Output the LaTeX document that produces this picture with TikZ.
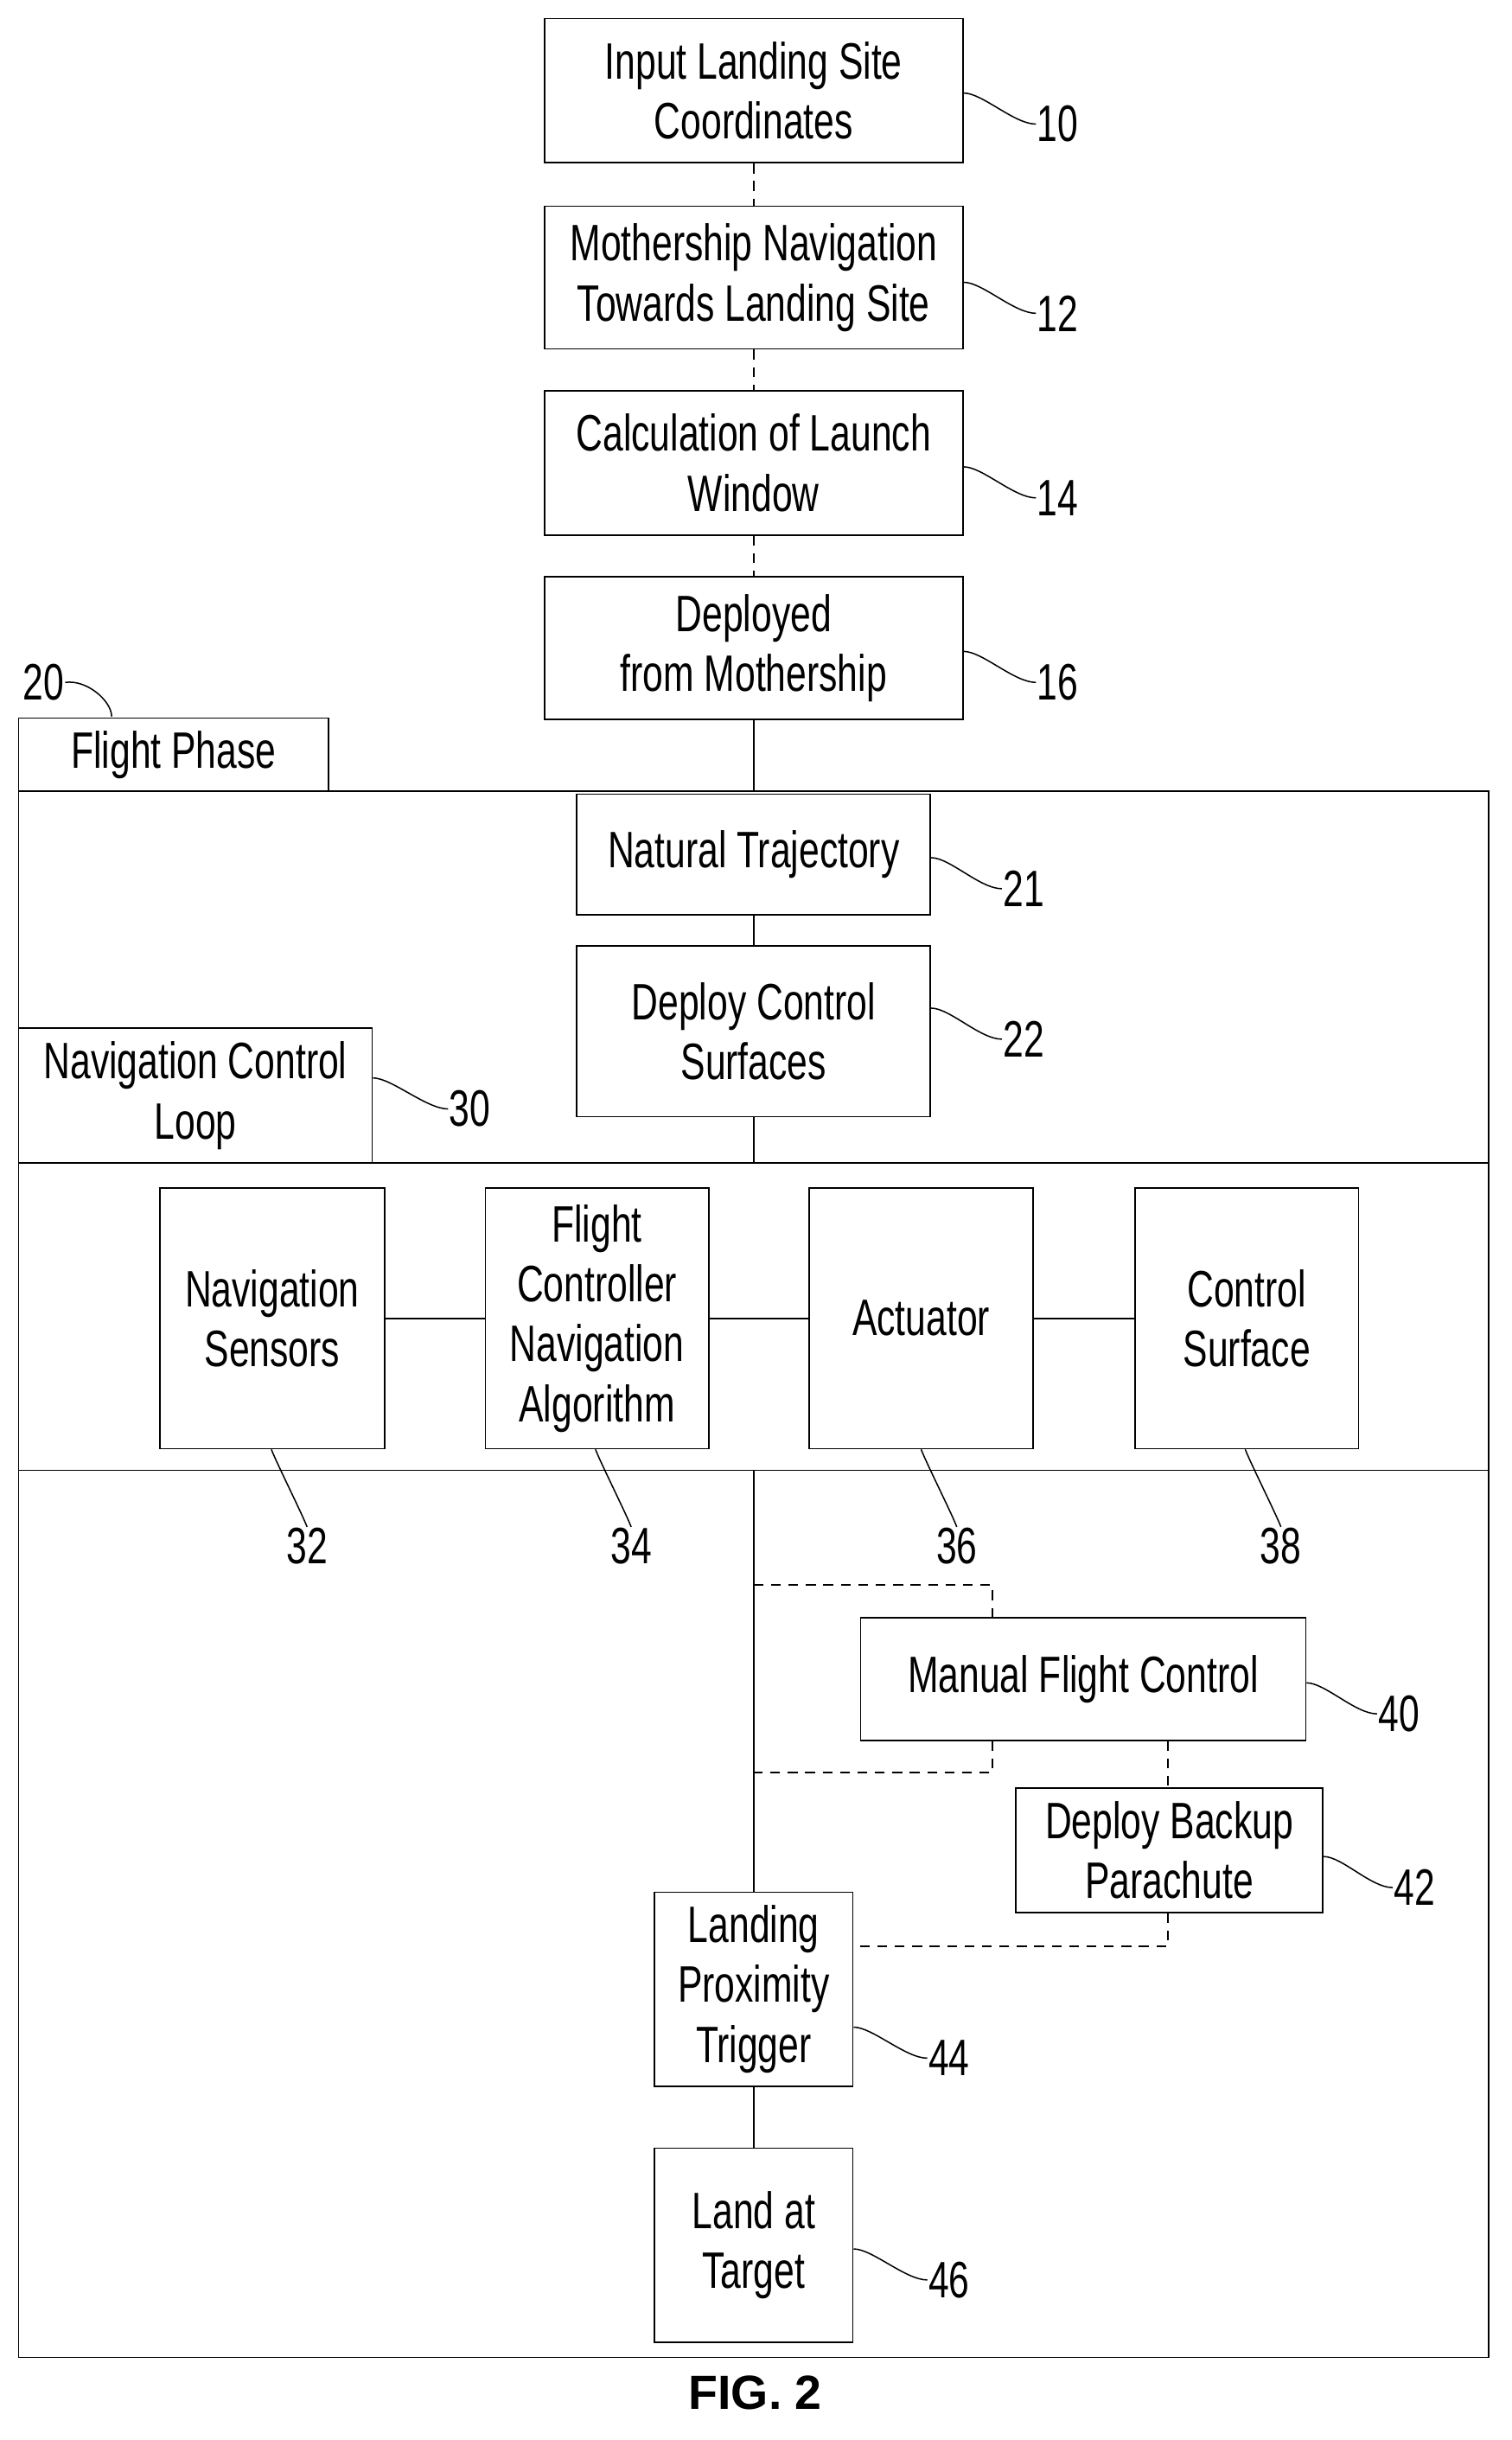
\documentclass[tikz,border=0pt]{standalone}
\usepackage{fontspec}
\setmainfont{Liberation Sans}[FakeStretch=0.72]
\newfontfamily\figfont{Liberation Sans}
\begin{document}
\begin{tikzpicture}[x=0.05cm,y=-0.05cm,
  box/.style={draw,line width=1.4pt,inner sep=0pt,align=center,font=\fontsize{47}{55}\selectfont},
  lab/.style={font=\fontsize{47}{55}\selectfont,inner sep=1pt},
  ln/.style={line width=1.4pt},
  dl/.style={line width=1.4pt,dash pattern=on 9pt off 7pt},
  sq/.style={line width=1.2pt}]
\useasboundingbox (0,0) rectangle (975,1573.2);
\newcommand{\bx}[6]{\node[box,minimum width={(#4-#2)*0.05cm},minimum height={(#5-#3)*0.05cm}] (#1) at ({(#2+#4)/2},{(#3+#5)/2}) {#6};}
\bx{b10}{351}{12}{621}{105}{Input Landing Site\\Coordinates}
\bx{b12}{351}{133}{621}{225}{Mothership Navigation\\Towards Landing Site}
\bx{b14}{351}{252}{621}{345}{Calculation of Launch\\Window}
\bx{b16}{351}{372}{621}{464}{Deployed\\from Mothership}
\bx{fp}{12}{463}{212}{510}{Flight Phase}
\draw[ln] (12,510) rectangle (960,1520);
\coordinate (ft) at (486,510);
\bx{b21}{372}{512}{600}{590}{Natural Trajectory}
\bx{b22}{372}{610}{600}{720}{Deploy Control\\Surfaces}
\bx{ncl}{12}{663}{240}{750}{Navigation Control\\Loop}
\draw[ln] (12,750) -- (960,750);
\draw[ln] (12,948) -- (960,948);
\coordinate (l1) at (486,750);
\coordinate (l2) at (486,948);
\bx{b32}{103}{766}{248}{934}{Navigation\\Sensors}
\bx{b34}{313}{766}{457}{934}{Flight\\Controller\\Navigation\\Algorithm}
\bx{b36}{522}{766}{666}{934}{Actuator}
\bx{b38}{732}{766}{876}{934}{Control\\Surface}
\bx{b40}{555}{1043}{842}{1122}{Manual Flight Control}
\bx{b42}{655}{1153}{853}{1233}{Deploy Backup\\Parachute}
\bx{b44}{422}{1220}{550}{1345}{Landing\\Proximity\\Trigger}
\bx{b46}{422}{1385}{550}{1510}{Land at\\Target}
% connectors
\draw[dl] (b10) -- (b12);
\draw[dl] (b12) -- (b14);
\draw[dl] (b14) -- (b16);
\draw[ln] (b16) -- (ft);
\draw[ln] (b21) -- (b22);
\draw[ln] (b22) -- (l1);
\draw[ln] (b32) -- (b34);
\draw[ln] (b34) -- (b36);
\draw[ln] (b36) -- (b38);
\draw[ln] (l2) -- (b44);
\draw[ln] (b44) -- (b46);
\draw[dl] (486,1022) -- (640,1022) -- (b40.north -| 640,0);
\draw[dl] (b40.south -| 640,0) -- (640,1143) -- (486,1143);
\draw[dl] (b40.south -| 753,0) -- (b42.north -| 753,0);
\draw[dl] (b42.south -| 753,0) -- (753,1255) -- (b44.east |- 0,1255);
% reference labels
\node[lab,anchor=west] (n10) at (668,80) {10};
\node[lab,anchor=west] (n12) at (668,202) {12};
\node[lab,anchor=west] (n14) at (668,321) {14};
\node[lab,anchor=west] (n16) at (668,440) {16};
\node[lab,anchor=west] (n21) at (646,573) {21};
\node[lab,anchor=west] (n22) at (646,670) {22};
\node[lab,anchor=west] (n30) at (289,715) {30};
\node[lab,anchor=west] (n40) at (888,1105) {40};
\node[lab,anchor=west] (n42) at (898,1217) {42};
\node[lab,anchor=west] (n44) at (598,1327) {44};
\node[lab,anchor=west] (n46) at (598,1470) {46};
\node[lab] (n20) at (28,440) {20};
\node[lab] (n32) at (198,997) {32};
\node[lab] (n34) at (407,997) {34};
\node[lab] (n36) at (617,997) {36};
\node[lab] (n38) at (826,997) {38};
\foreach \b/\n/\y in {b10/n10/60,b12/n12/182,b14/n14/301,b16/n16/420,b21/n21/553,b22/n22/650,ncl/n30/695,b40/n40/1085,b42/n42/1197,b44/n44/1307,b46/n46/1450}
  \draw[sq] (\b.east |- 0,\y) .. controls +(12,0) and +(-14,0) .. (\n.west);
\draw[sq] (n20.east) .. controls +(14,-2) and +(0,-10) .. (72,462);
\draw[sq] (b32.south -| 175,0) .. controls +(3,8) and +(-3,-8) .. (n32.north);
\draw[sq] (b34.south -| 384,0) .. controls +(3,8) and +(-3,-8) .. (n34.north);
\draw[sq] (b36.south -| 594,0) .. controls +(3,8) and +(-3,-8) .. (n36.north);
\draw[sq] (b38.south -| 803,0) .. controls +(3,8) and +(-3,-8) .. (n38.north);
\node[font=\figfont\bfseries\fontsize{44}{52}\selectfont] (fig) at (487,1543) {FIG. 2};
\end{tikzpicture}
\end{document}
